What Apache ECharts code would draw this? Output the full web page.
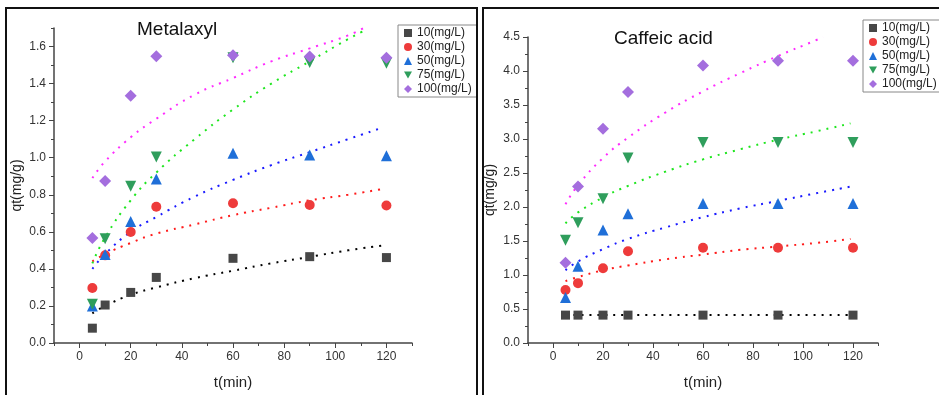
<!DOCTYPE html>
<html>
<head>
<meta charset="utf-8">
<script src="https://cdn.jsdelivr.net/npm/echarts@6/dist/echarts.min.js"></script>
<style>
  html, body { margin: 0; padding: 0; background: #fff; }
  #chart { width: 939px; height: 395px; }
</style>
</head>
<body>
<div id="chart"></div>
<script>
// sampling times (min)
const timeMin = [5, 10, 20, 30, 60, 90, 120]
const seriesNames = ['10(mg/L)', '30(mg/L)', '50(mg/L)', '75(mg/L)', '100(mg/L)']

// Metalaxyl qt (mg/g)
const met10 = [0.08, 0.205, 0.273, 0.354, 0.457, 0.466, 0.461]
const met30 = [0.297, 0.473, 0.599, 0.735, 0.754, 0.745, 0.742]
const met50 = [0.2, 0.477, 0.656, 0.885, 1.024, 1.015, 1.01]
const met75 = [0.209, 0.563, 0.846, 1.004, 1.54, 1.514, 1.51]
const met100 = [0.567, 0.874, 1.335, 1.548, 1.553, 1.546, 1.54]

// Metalaxyl fitted curves [t, qt]
const metFit10 = [[5, 0.16], [10, 0.2], [20, 0.26], [30, 0.3], [45, 0.35], [60, 0.39], [75, 0.43], [90, 0.465], [105, 0.5], [118, 0.525]]
const metFit30 = [[5, 0.44], [10, 0.48], [20, 0.54], [30, 0.59], [45, 0.64], [60, 0.69], [75, 0.73], [90, 0.77], [105, 0.8], [118, 0.83]]
const metFit50 = [[5, 0.4], [10, 0.48], [20, 0.6], [30, 0.68], [45, 0.79], [60, 0.88], [75, 0.96], [90, 1.03], [105, 1.1], [118, 1.16]]
const metFit75 = [[5, 0.43], [10, 0.57], [20, 0.77], [30, 0.92], [45, 1.1], [60, 1.26], [75, 1.4], [90, 1.52], [105, 1.64], [112, 1.69]]
const metFit100 = [[5, 0.89], [10, 0.98], [20, 1.11], [30, 1.21], [45, 1.34], [60, 1.43], [75, 1.52], [90, 1.59], [105, 1.66], [111, 1.7]]

// Caffeic acid qt (mg/g)
const caf10 = [0.41, 0.41, 0.41, 0.41, 0.41, 0.41, 0.41]
const caf30 = [0.78, 0.88, 1.1, 1.35, 1.4, 1.4, 1.4]
const caf50 = [0.67, 1.13, 1.66, 1.9, 2.05, 2.05, 2.05]
const caf75 = [1.51, 1.77, 2.12, 2.72, 2.95, 2.95, 2.95]
const caf100 = [1.18, 2.3, 3.15, 3.69, 4.08, 4.15, 4.15]

// Caffeic acid fitted curves [t, qt]
const cafFit10 = [[5, 0.41], [60, 0.41], [120, 0.41]]
const cafFit30 = [[5, 0.91], [10, 0.97], [20, 1.07], [30, 1.14], [45, 1.23], [60, 1.3], [75, 1.37], [90, 1.42], [105, 1.47], [119, 1.53]]
const cafFit50 = [[5, 1.07], [10, 1.2], [20, 1.38], [30, 1.53], [45, 1.7], [60, 1.85], [75, 1.98], [90, 2.09], [105, 2.2], [119, 2.3]]
const cafFit75 = [[5, 1.76], [10, 1.92], [20, 2.14], [30, 2.31], [45, 2.52], [60, 2.7], [75, 2.85], [90, 2.99], [105, 3.11], [119, 3.23]]
const cafFit100 = [[5, 2.04], [10, 2.32], [20, 2.72], [30, 3.02], [45, 3.39], [60, 3.7], [75, 3.97], [90, 4.22], [105, 4.45], [108, 4.5]]

// tick values
const xTicks = [0, 20, 40, 60, 80, 100, 120]
const xMinorTicks = [-10, 10, 30, 50, 70, 90, 110, 130]
const metYTicks = [0, 0.2, 0.4, 0.6, 0.8, 1.0, 1.2, 1.4, 1.6]
const metYMinor = [0.1, 0.3, 0.5, 0.7, 0.9, 1.1, 1.3, 1.5, 1.7]
const cafYTicks = [0, 0.5, 1.0, 1.5, 2.0, 2.5, 3.0, 3.5, 4.0, 4.5]
const cafYMinor = [0.25, 0.75, 1.25, 1.75, 2.25, 2.75, 3.25, 3.75, 4.25]

const downTriangle = 'path://M0,0L10,0L5,9Z'
const markers = [
  { symbol: 'rect', size: 9, color: '#474747', line: '#000000' },
  { symbol: 'circle', size: 10, color: '#ee3b3b', line: '#ff1a1a' },
  { symbol: 'triangle', size: 11, color: '#1f6fd8', line: '#1a1aff' },
  { symbol: downTriangle, size: 11, color: '#2f9e5c', line: '#1ee61e' },
  { symbol: 'diamond', size: 12, color: '#a46ede', line: '#ff2cff' },
]

const font = 'Arial, "Liberation Sans", sans-serif'

function mainX(gridIndex) {
  return {
    type: 'value', gridIndex: gridIndex, min: -10, max: 130,
    name: 't(min)', nameLocation: 'middle', nameGap: 32,
    nameTextStyle: { fontSize: 15, color: '#222', fontFamily: font },
    axisLine: { onZero: false, lineStyle: { color: '#444', width: 1.5 } },
    axisTick: { customValues: xTicks, length: 5, lineStyle: { color: '#444' } },
    axisLabel: { customValues: xTicks, fontSize: 12, color: '#333', fontFamily: font, margin: 8 },
    splitLine: { show: false },
  }
}
function minorX(gridIndex) {
  return {
    type: 'value', gridIndex: gridIndex, min: -10, max: 130, position: 'bottom',
    axisLine: { show: false, onZero: false },
    axisTick: { customValues: xMinorTicks, length: 3, lineStyle: { color: '#444' } },
    axisLabel: { show: false },
    splitLine: { show: false },
  }
}
function mainY(gridIndex, max, ticks, gap) {
  return {
    type: 'value', gridIndex: gridIndex, min: 0, max: max,
    name: 'qt(mg/g)', nameLocation: 'middle', nameGap: gap,
    nameTextStyle: { fontSize: 14, color: '#222', fontFamily: font },
    axisLine: { show: true, onZero: false, lineStyle: { color: '#444', width: 1.5 } },
    axisTick: { customValues: ticks, length: 5, lineStyle: { color: '#444' } },
    axisLabel: {
      customValues: ticks, fontSize: 12, color: '#333', fontFamily: font, margin: 8,
      formatter: (v) => v.toFixed(1),
    },
    splitLine: { show: false },
  }
}
function minorY(gridIndex, max, ticks) {
  return {
    type: 'value', gridIndex: gridIndex, min: 0, max: max, position: 'left',
    axisLine: { show: false, onZero: false },
    axisTick: { show: true, customValues: ticks, length: 3, lineStyle: { color: '#444' } },
    axisLabel: { show: false },
    splitLine: { show: false },
  }
}

function buildSeries(points, fits, axisIndex, prefix) {
  let series = []
  fits.forEach((fit, i) => {
    series.push({
      name: prefix + seriesNames[i], type: 'line', smooth: true, showSymbol: false,
      xAxisIndex: axisIndex, yAxisIndex: axisIndex, data: fit,
      lineStyle: { color: markers[i].line, width: 2, type: [2, 6] },
      silent: true, z: 2,
    })
  })
  points.forEach((vals, i) => {
    series.push({
      name: seriesNames[i], type: 'scatter',
      xAxisIndex: axisIndex, yAxisIndex: axisIndex,
      data: timeMin.map((t, k) => [t, vals[k]]),
      symbol: markers[i].symbol, symbolSize: markers[i].size,
      itemStyle: { color: markers[i].color, opacity: 1 },
      z: 3,
    })
  })
  return series
}

const chart = echarts.init(document.getElementById('chart'), null, { renderer: 'canvas' })

const legendBase = {
  orient: 'vertical', data: seriesNames, itemWidth: 8, itemHeight: 8, itemGap: 2,
  borderColor: '#888', borderWidth: 1, padding: [2, 6, 2, 6], selectedMode: false,
  textStyle: { fontSize: 12, color: '#222', fontFamily: font },
}

chart.setOption({
  animation: false,
  backgroundColor: '#fff',
  title: [
    { text: 'Metalaxyl', left: 137, top: 20, padding: 0, textStyle: { fontSize: 19, fontWeight: 'normal', color: '#111', fontFamily: font } },
    { text: 'Caffeic acid', left: 614, top: 29, padding: 0, textStyle: { fontSize: 19, fontWeight: 'normal', color: '#111', fontFamily: font } },
  ],
  legend: [
    Object.assign({ left: 398, top: 25 }, legendBase),
    Object.assign({ left: 863, top: 20 }, legendBase),
  ],
  grid: [
    { left: 54, top: 28, width: 358, height: 317 },
    { left: 528, top: 37, width: 350, height: 310.7 },
  ],
  xAxis: [mainX(0), mainX(1), minorX(0), minorX(1)],
  yAxis: [
    mainY(0, 1.7, metYTicks, 30),
    mainY(1, 4.5, cafYTicks, 31),
    minorY(0, 1.7, metYMinor),
    minorY(1, 4.5, cafYMinor),
  ],
  series: buildSeries([met10, met30, met50, met75, met100], [metFit10, metFit30, metFit50, metFit75, metFit100], 0, 'fitM ')
    .concat(buildSeries([caf10, caf30, caf50, caf75, caf100], [cafFit10, cafFit30, cafFit50, cafFit75, cafFit100], 1, 'fitC ')),
  graphic: [
    { type: 'rect', z: 100, shape: { x: 477, y: 0, width: 6, height: 395 }, style: { fill: '#fff' } },
    { type: 'rect', z: 101, shape: { x: 6, y: 8, width: 471, height: 400 }, style: { fill: null, stroke: '#111', lineWidth: 2 } },
    { type: 'rect', z: 101, shape: { x: 483, y: 8, width: 470, height: 400 }, style: { fill: null, stroke: '#111', lineWidth: 2 } },
  ],
})
</script>
</body>
</html>
